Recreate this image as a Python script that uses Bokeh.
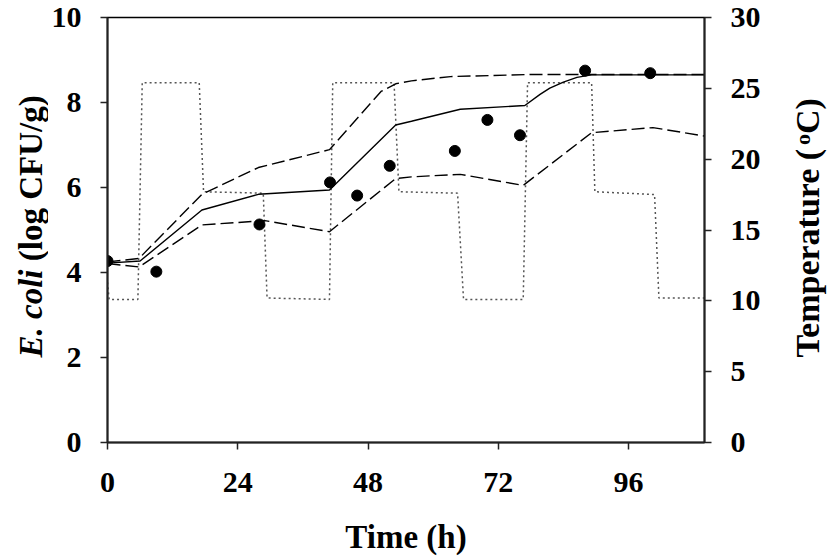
import math
from bokeh.plotting import figure
from bokeh.layouts import row
from bokeh.models import Range1d, LinearAxis, FixedTicker
from bokeh.core.properties import value
from bokeh.embed import file_html
from bokeh.resources import INLINE

# ---- data ----
temp_time = [0, 0.3, 5.6, 6.4, 16.9, 17.7, 28.7, 29.4, 40.9, 41.5, 52.8, 53.7,
             64.5, 65.6, 76.6, 77.4, 89.2, 89.8, 100.8, 101.6, 110]
temp_val = [11.3, 10.1, 10.1, 25.4, 25.4, 17.7, 17.6, 10.2, 10.1, 25.4, 25.4, 17.7,
            17.6, 10.1, 10.1, 25.4, 25.4, 17.7, 17.5, 10.2, 10.2]

pred_time = [0, 6, 17.4, 27.8, 40.9, 53.1, 56, 65, 76.9, 79.7, 81.5, 84, 86.5, 89.2, 95, 110]
pred_val = [4.22, 4.27, 5.47, 5.84, 5.94, 7.47, 7.56, 7.84, 7.93, 8.19, 8.34, 8.48, 8.59, 8.65, 8.65, 8.65]

upper_time = [0, 5.8, 17.4, 27.8, 40.9, 50.4, 53.1, 56, 63.2, 78.4, 90, 110]
upper_val = [4.25, 4.33, 5.84, 6.47, 6.89, 8.26, 8.44, 8.51, 8.61, 8.66, 8.66, 8.66]

lower_time = [0, 5.8, 17.4, 29, 40.9, 53.1, 56, 65, 76.6, 89.2, 100.5, 110]
lower_val = [4.21, 4.13, 5.12, 5.22, 4.96, 6.21, 6.25, 6.31, 6.05, 7.29, 7.41, 7.21]

obs_time = [0, 9, 28, 41, 46, 52, 64, 70, 76, 88, 100]
obs_val = [4.27, 4.02, 5.13, 6.12, 5.81, 6.51, 6.86, 7.59, 7.23, 8.75, 8.69]

x_ticks = [0, 24, 48, 72, 96]
y_ticks = [0, 2, 4, 6, 8, 10]
t_ticks = [0, 5, 10, 15, 20, 25, 30]

x_label = "Time (h)"
y_label_italic = "E. coli"
y_label_rest = "(log CFU/g)"
t_label_main = "Temperature ("
t_label_sup = "o"
t_label_end = "C)"

FONT = "Liberation Serif"
H = 557
TOP, BOT = 17, 442          # frame top / bottom in page pixels
LW, RW = 48, 64
MW = 827 - LW - RW
BL = 105 - LW               # main left border -> frame left at page x 105
BR = MW - BL - 601          # frame right at page x 706

# ---- main chart ----
p = figure(width=MW, height=H, output_backend="svg", toolbar_location=None,
           x_range=Range1d(0, 110), y_range=Range1d(0, 10),
           min_border_left=BL, min_border_right=BR,
           min_border_top=TOP, min_border_bottom=H - BOT)
p.extra_y_ranges = {"temp": Range1d(0, 30)}
p.xgrid.visible = False
p.ygrid.visible = False
p.outline_line_color = "black"
p.outline_line_width = 1.5

raxis = LinearAxis(y_range_name="temp")
p.add_layout(raxis, "right")

p.xaxis.ticker = FixedTicker(ticks=x_ticks)
p.yaxis[0].ticker = FixedTicker(ticks=y_ticks)
raxis.ticker = FixedTicker(ticks=t_ticks)

for ax in [p.xaxis[0], p.yaxis[0], raxis]:
    ax.axis_line_color = "#222222"
    ax.axis_line_width = 2
    ax.major_tick_line_color = "#222222"
    ax.major_tick_line_width = 1.5
    ax.major_tick_out = 7
    ax.major_tick_in = 0
    ax.minor_tick_line_color = None
    ax.major_label_text_font = FONT
    ax.major_label_text_font_style = "bold"
    ax.major_label_text_font_size = "30px"
    ax.major_label_text_color = "black"
    ax.major_label_standoff = 19
p.xaxis[0].major_label_standoff = 23
p.xaxis[0].axis_label = x_label
p.xaxis[0].axis_label_text_font = FONT
p.xaxis[0].axis_label_text_font_style = "bold"
p.xaxis[0].axis_label_text_font_size = "33px"
p.xaxis[0].axis_label_text_color = "black"
p.xaxis[0].axis_label_standoff = 24

# temperature profile
p.line(temp_time, temp_val, y_range_name="temp", line_color="#555555",
       line_width=1.5, line_dash="2 3")
# prediction and bounds
p.line(pred_time, pred_val, line_color="black", line_width=1.4)
p.line(upper_time, upper_val, line_color="black", line_width=1.4, line_dash="13 5")
p.line(lower_time, lower_val, line_color="black", line_width=1.4, line_dash="13 5")
# observations
p.scatter(obs_time, obs_val, size=11, color="black")


def side_fig(w):
    # frame is aligned with the main frame (rows align frames vertically),
    # so map y so that data y == H - page y
    f = figure(width=w, height=H, output_backend="svg", toolbar_location=None,
               x_range=Range1d(0, w), y_range=Range1d(H - BOT, H - TOP),
               x_axis_location=None, y_axis_location=None,
               min_border=0, min_border_left=0, min_border_right=0,
               min_border_top=TOP, min_border_bottom=H - BOT)
    f.outline_line_color = None
    f.xgrid.visible = False
    f.ygrid.visible = False
    return f


# ---- left axis title ----
fs = 33
lf = side_fig(LW)
y0 = H - 357
lx = 30
lf.text(x=[lx], y=[y0], text=[y_label_italic], angle=math.pi / 2,
        text_font=value(FONT), text_font_style="bold italic", text_font_size=f"{fs}px",
        text_align="left", text_baseline="middle", text_color="black")
lf.text(x=[lx], y=[y0 + (2.667 + 0.25) * fs], text=[y_label_rest], angle=math.pi / 2,
        text_font=value(FONT), text_font_style="bold", text_font_size=f"{fs}px",
        text_align="left", text_baseline="middle", text_color="black")

# ---- right axis title ----
fr = 34
rf = side_fig(RW)
ry0 = H - 357
rx = 44
rf.text(x=[rx], y=[ry0], text=[t_label_main], angle=math.pi / 2,
        text_font=value(FONT), text_font_style="bold", text_font_size=f"{fr}px",
        text_align="left", text_baseline="middle", text_color="black")
sy = ry0 + 6.248 * fr
rf.text(x=[rx - 5], y=[sy], text=[t_label_sup], angle=math.pi / 2,
        text_font=value(FONT), text_font_style="bold", text_font_size="22px",
        text_align="left", text_baseline="middle", text_color="black")
rf.text(x=[rx], y=[sy + 11], text=[t_label_end], angle=math.pi / 2,
        text_font=value(FONT), text_font_style="bold", text_font_size=f"{fr}px",
        text_align="left", text_baseline="middle", text_color="black")

layout = row(lf, p, rf, spacing=0)
open("out.html", "w").write(file_html(layout, INLINE))
